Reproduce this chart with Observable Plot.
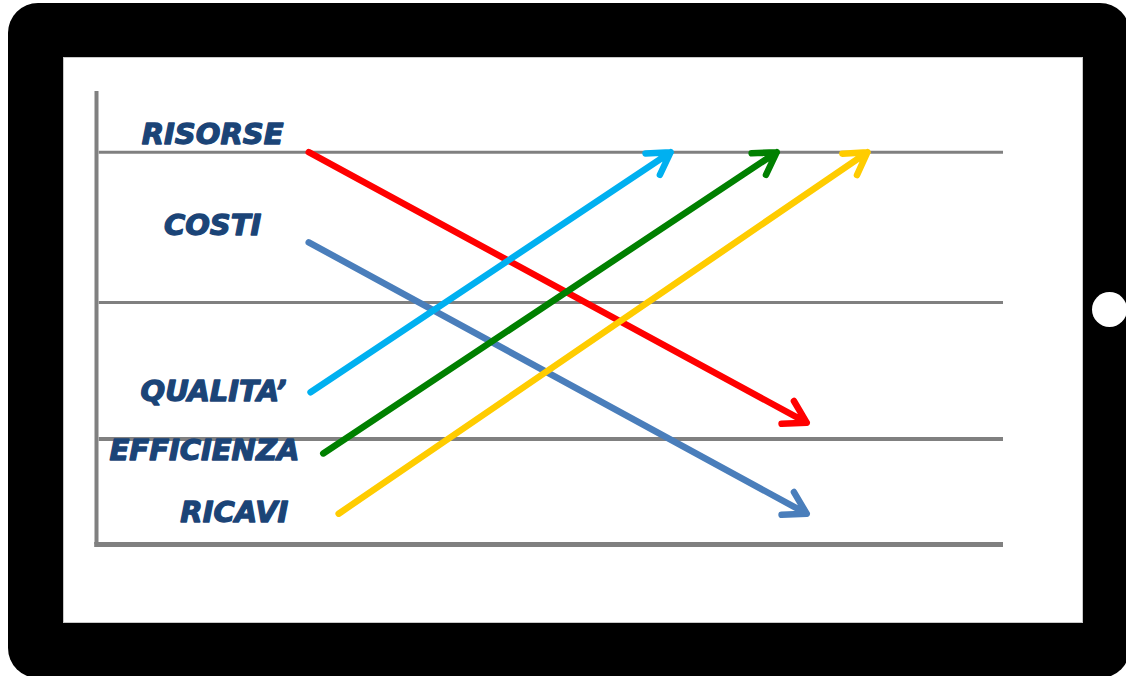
<!DOCTYPE html>
<html>
<head>
<meta charset="utf-8">
<script src="https://cdn.jsdelivr.net/npm/d3@7"></script>
<script src="https://cdn.jsdelivr.net/npm/@observablehq/plot@0.6"></script>
<style>
  html, body { margin: 0; padding: 0; width: 1126px; height: 676px; overflow: hidden; background: #ffffff; }
  #tablet { position: absolute; left: 8px; top: 3px; width: 1122px; height: 675px; background: #000; border-radius: 30px; }
  #screen { position: absolute; left: 64px; top: 58px; width: 1018px; height: 564px; background: #fff; box-shadow: 0 0 0 1px #c8c8c8; }
  #button { position: absolute; left: 1092px; top: 292px; width: 35px; height: 35px; border-radius: 50%; background: #fff; }
  #chart { position: absolute; left: 64px; top: 58px; }
</style>
</head>
<body>
<div id="tablet"></div>
<div id="screen"></div>
<div id="button"></div>
<div id="chart"></div>
<script>
// Series (one arrow per indicator)
const names   = ["RISORSE", "COSTI", "QUALITA’", "EFFICIENZA", "RICAVI"];
const colors  = ["#ff0000", "#4a7ebb", "#00b0f0", "#008000", "#ffcc00"];
const startX  = [23.4, 23.4, 23.6, 25.0, 26.7];
const startY  = [86.6, 66.7, 33.6, 20.1, 6.8];
const endX    = [78.3, 78.3, 63.3, 75.0, 85.0];
const endY    = [26.9, 6.8, 86.6, 86.6, 86.6];
// Label anchor positions
const labelX  = [12.8, 12.8, 12.9, 11.9, 15.2];
const labelY  = [90.5, 70.4, 33.8, 20.6, 7.1];
// Horizontal reference levels
const levels  = [23.3, 53.4, 86.6];
const levelW  = [4, 3, 3];

const arrows = names.map((n, i) => ({name: n, color: colors[i], x1: startX[i], y1: startY[i], x2: endX[i], y2: endY[i]}));
const labels = names.map((n, i) => ({name: n, x: labelX[i], y: labelY[i]}));
const rules  = levels.map((v, i) => ({y: v, w: levelW[i]}));

const chart = Plot.plot({
  width: 1018,
  height: 564,
  marginLeft: 32,
  marginRight: 79,
  marginTop: 33,
  marginBottom: 78,
  x: {domain: [0, 100], axis: null},
  y: {domain: [0, 100], axis: null},
  marks: [
    Plot.ruleY(rules, {y: "y", x1: 0.3, x2: 100, stroke: "#808080", strokeWidth: "w"}),
    Plot.ruleX([0], {y1: 0, y2: 100, stroke: "#808080", strokeWidth: 4}),
    Plot.ruleY([0], {x1: -0.2, x2: 100, stroke: "#808080", strokeWidth: 5}),
    Plot.arrow(arrows, {
      x1: "x1", y1: "y1", x2: "x2", y2: "y2",
      stroke: d => d.color, strokeWidth: 6.5, headLength: 5.8, headAngle: 62,
      strokeLinecap: "round", strokeLinejoin: "round"
    }),
    Plot.text(labels, {
      x: "x", y: "y", text: "name", textAnchor: "middle",
      fill: "#1b4477", stroke: "#1b4477", strokeWidth: 1.3,
      fontSize: 29, fontWeight: "bold", fontStyle: "italic",
      fontFamily: "'DejaVu Sans', sans-serif", letterSpacing: -0.6
    })
  ]
});
chart.style.background = "transparent";
document.getElementById("chart").appendChild(chart);
</script>
</body>
</html>
